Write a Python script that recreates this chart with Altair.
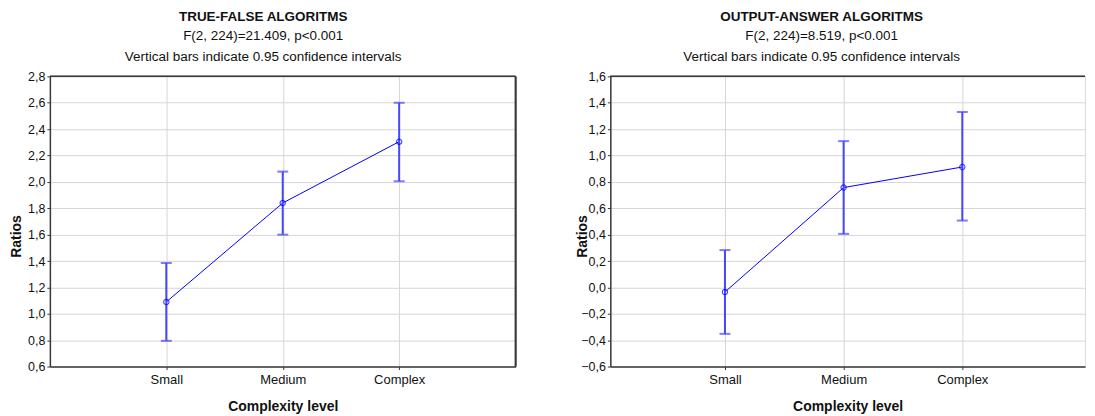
import altair as alt
import pandas as pd

categories = ["Small", "Medium", "Complex"]

tf_mean = [1.09, 1.84, 2.305]
tf_lo = [0.795, 1.60, 2.005]
tf_hi = [1.385, 2.078, 2.60]

oa_mean = [-0.035, 0.757, 0.913]
oa_lo = [-0.352, 0.406, 0.507]
oa_hi = [0.283, 1.109, 1.33]

tf_title = "TRUE-FALSE ALGORITMS"
tf_sub = ["F(2, 224)=21.409, p<0.001", "Vertical bars indicate 0.95 confidence intervals"]
oa_title = "OUTPUT-ANSWER ALGORITMS"
oa_sub = ["F(2, 224)=8.519, p<0.001", "Vertical bars indicate 0.95 confidence intervals"]

FONT = "Liberation Sans"
LINE = "#0000ff"
BAR = "#4646ff"
GRID = "#d6d6d6"
FRAME = "#3a3a3a"


def panel(mean, lo, hi, title, sub, ydom, width, height, xpad, xalign, title_x, title_dx, right_edge):
    df = pd.DataFrame({"cat": categories, "mean": mean, "lo": lo, "hi": hi})
    xs = alt.Scale(domain=categories, type="point", padding=xpad, align=xalign)
    ys = alt.Scale(domain=ydom, nice=False, zero=False)
    yvals = [round(ydom[0] + 0.2 * i, 1) for i in range(int(round((ydom[1] - ydom[0]) / 0.2)) + 1)]
    xaxis = alt.Axis(
        title="Complexity level", labelAngle=0, grid=True, gridColor=GRID, gridWidth=1,
        domainColor=FRAME, domainWidth=1.5, tickColor=FRAME, tickSize=3,
        labelFont=FONT, labelFontSize=13, labelColor="#111", labelPadding=4,
        titleFont=FONT, titleFontSize=14, titleFontWeight="bold", titleColor="#111",
        titleBaseline="alphabetic", titleY=44,
    )
    yaxis = alt.Axis(
        title="Ratios", values=yvals, grid=True, gridColor=GRID, gridWidth=1,
        labelExpr="replace(format(datum.value, '.1f'), '.', ',')", labelOverlap=False,
        domainColor=FRAME, domainWidth=1.5, tickColor=FRAME, tickSize=3,
        labelFont=FONT, labelFontSize=12.5, labelColor="#111", labelPadding=2,
        titleFont=FONT, titleFontSize=14, titleFontWeight="bold", titleColor="#111",
        titleX=title_x, titleY=160, titleBaseline="alphabetic",
    )
    base = alt.Chart(df)
    x = alt.X("cat:N", scale=xs, axis=xaxis, sort=categories)
    line = base.mark_line(color=LINE, strokeWidth=1).encode(
        x=x, y=alt.Y("mean:Q", scale=ys, axis=yaxis)
    )
    stem = base.mark_rule(color=BAR, strokeWidth=2).encode(
        x=x, y=alt.Y("lo:Q", scale=ys, axis=yaxis), y2="hi:Q"
    )
    cap_lo = base.mark_tick(color=BAR, thickness=2, size=11, orient="horizontal").encode(
        x=x, y=alt.Y("lo:Q", scale=ys, axis=yaxis)
    )
    cap_hi = base.mark_tick(color=BAR, thickness=2, size=11, orient="horizontal").encode(
        x=x, y=alt.Y("hi:Q", scale=ys, axis=yaxis)
    )
    pts = base.mark_point(color=LINE, size=28, strokeWidth=1.2, filled=False).encode(
        x=x, y=alt.Y("mean:Q", scale=ys, axis=yaxis)
    )
    top = base.mark_rule(color=FRAME, strokeWidth=1.5).encode(
        x=alt.value(0), x2=alt.value(width), y=alt.value(0)
    )
    layers = [line, stem, cap_lo, cap_hi, pts, top]
    if right_edge:
        redge = base.mark_rule(color=FRAME, strokeWidth=1.5).encode(
            x=alt.value(width), y=alt.value(0), y2=alt.value(height)
        )
        layers.append(redge)
    ch = alt.layer(*layers).properties(
        width=width, height=height,
        title=alt.TitleParams(
            text=title, subtitle=sub, font=FONT, fontSize=13.5, fontWeight="bold", color="#111",
            subtitleFont=FONT, subtitleFontSize=13.5, subtitleColor="#111",
            subtitleLineHeight=21, subtitlePadding=6, anchor="middle", frame="bounds",
            offset=7, dx=title_dx,
        ),
    )
    return ch


left = panel(tf_mean, tf_lo, tf_hi, tf_title, tf_sub, [0.6, 2.8], 467, 291, 1.0, 0.5, -29, 0, True)
right = panel(oa_mean, oa_lo, oa_hi, oa_title, oa_sub, [-0.6, 1.6], 476, 291, 1.034, 0.483, -24, -9, False)

chart = alt.hconcat(left, right, spacing=57).properties(
    padding={"left": 1, "top": 0, "right": 0, "bottom": 0}
).configure_view(strokeWidth=0).configure(background="white")

chart.save("out.html", embed_options={"renderer": "svg", "actions": False})
